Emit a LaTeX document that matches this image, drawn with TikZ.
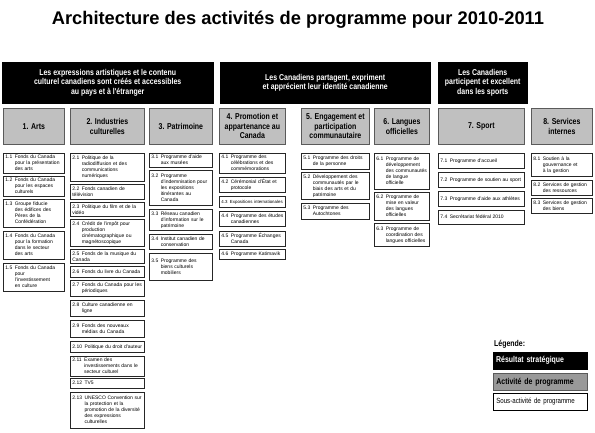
\documentclass[tikz,border=0pt]{standalone}
\usepackage{fontspec}
\setmainfont{Liberation Sans}
\newfontfamily\narrow[FakeStretch=0.82]{Liberation Sans}
\definecolor{grisactivite}{RGB}{192,192,192}
\definecolor{grislegende}{RGB}{153,153,153}
\definecolor{bord}{RGB}{90,90,90}
% sous-activite: numero, puis lignes en retrait
\newcommand{\sa}[2]{\noindent#1\hspace{2.5pt}\begin{tabular}[t]{@{}l@{}}#2\end{tabular}}
% sous-activite: lignes suivantes au bord gauche
\newcommand{\saf}[3]{\noindent#1\hspace{2.5pt}#2\\#3}
\begin{document}
\begin{tikzpicture}[
		x={(1pt,0pt)},
		y={(0pt,-1pt)},
		resultat/.style={draw=black, fill=black, text=white, anchor=north west, align=center, inner sep=0pt, font=\narrow\bfseries\fontsize{8.5}{9.5}\selectfont},
		activite/.style={draw=bord, line width=0.8pt, fill=grisactivite, anchor=north west, align=center, inner sep=0pt, font=\narrow\bfseries\fontsize{8.5}{9.5}\selectfont},
		sousact/.style={draw=black!85, line width=0.7pt, fill=white, anchor=north west, align=left, inner xsep=2pt, inner ysep=1pt, font=\fontsize{5}{6}\selectfont},
		legende/.style={anchor=north west, align=left, minimum width=94, minimum height=17, text width=88, inner xsep=3pt},
	]
		\useasboundingbox (0,0) rectangle (595,433);
		
		\node[font=\bfseries\fontsize{18.3}{22}\selectfont] (titre) at (298,20) {Architecture des activités de programme pour 2010-2011};
		
		% resultats strategiques
		\node[resultat, minimum width=211, minimum height=41] (r1) at (2,62) {Les expressions artistiques et le contenu\\culturel canadiens sont créés et accessibles\\au pays et à l'étranger};
		\node[resultat, minimum width=210, minimum height=41] (r2) at (220,62) {Les Canadiens partagent, expriment\\et apprécient leur identité canadienne};
		\node[resultat, minimum width=89, minimum height=41] (r3) at (438,62) {Les Canadiens\\participent et excellent\\dans les sports};
		
		% activites de programme
		\foreach \n/\x/\w/\t in {1/3/61/{1. Arts}, 2/70/74/{2. Industries\\culturelles}, 3/149/63/{3. Patrimoine}, 4/219/66/{4. Promotion et\\appartenance au\\Canada}, 5/301/68/{5. Engagement et\\participation\\communautaire}, 6/374/55/{6. Langues\\officielles}, 7/438/86/{7. Sport}, 8/531/61/{8. Services\\internes}}{
			\node[activite, minimum width=\w, minimum height=36] (a\n) at (\x,108) {\t};
		}
		
		% sous-activites
		\foreach \i/\y/\h/\t in {1/153/19/{\sa{1.1}{Fonds du Canada\\pour la présentation\\des arts}}, 2/176/18/{\sa{1.2}{Fonds du Canada\\pour les espaces\\culturels}}, 3/199/28/{\sa{1.3}{Groupe fiducie\\des édifices des\\Pères de la\\Confédération}}, 4/231/28/{\sa{1.4}{Fonds du Canada\\pour la formation\\dans le secteur\\des arts}}, 5/263/28/{\sa{1.5}{Fonds du Canada\\pour\\l'investissement\\en culture}}}{
			\node[sousact, text width=57, minimum height=\h] (b1-\i) at (3,\y) {\t};
		}
		\foreach \i/\y/\h/\t in {1/153/28/{\sa{2.1}{Politique de la\\radiodiffusion et des\\communications\\numériques}}, 2/184/15/{\saf{2.2}{Fonds canadien de}{télévision}}, 3/202/14/{\saf{2.3}{Politique du film et de la}{vidéo}}, 4/219/27/{\sa{2.4}{Crédit de l'impôt pour\\production\\cinématographique ou\\magnétoscopique}}, 5/249/14/{\saf{2.5}{Fonds de la musique du}{Canada}}, 6/266/11/{\sa{2.6}{Fonds du livre du Canada}}, 7/280/16/{\sa{2.7}{Fonds du Canada pour les\\périodiques}}, 8/300/16/{\sa{2.8}{Culture canadienne en\\ligne}}, 9/320/17/{\sa{2.9}{Fonds des nouveaux\\médias du Canada}}, 10/341/11/{\sa{2.10}{Politique du droit d'auteur}}, 11/356/19/{\sa{2.11}{Examen des\\investissements dans le\\secteur culturel}}, 12/378/10/{\sa{2.12}{TV5}}, 13/392/36/{\sa{2.13}{UNESCO Convention sur\\la protection et la\\promotion de la diversité\\des expressions\\culturelles}}}{
			\node[sousact, text width=70, minimum height=\h] (b2-\i) at (70,\y) {\t};
		}
		\foreach \i/\y/\h/\t in {1/153/14/{\sa{3.1}{Programme d'aide\\aux musées}}, 2/170/35/{\sa{3.2}{Programme\\d'indemnisation pour\\les expositions\\itinérantes au\\Canada}}, 3/209/21/{\sa{3.3}{Réseau canadien\\d'information sur le\\patrimoine}}, 4/234/15/{\sa{3.4}{Institut canadien de\\conservation}}, 5/253/27/{\sa{3.5}{Programme des\\biens culturels\\mobiliers}}}{
			\node[sousact, text width=59, minimum height=\h] (b3-\i) at (149,\y) {\t};
		}
		\foreach \i/\y/\h/\t in {1/153/20/{\sa{4.1}{Programme des\\célébrations et des\\commémorations}}, 2/177/15/{\sa{4.2}{Cérémonial d'État et\\protocole}}, 3/196/11/{\fontsize{4.4}{6}\selectfont\sa{4.3}{Expositions internationales}}, 4/211/15/{\sa{4.4}{Programme des études\\canadiennes}}, 5/231/15/{\sa{4.5}{Programme Échanges\\Canada}}, 6/249/10/{\sa{4.6}{Programme Katimavik}}}{
			\node[sousact, text width=62, minimum height=\h] (b4-\i) at (219,\y) {\t};
		}
		\foreach \i/\y/\h/\t in {1/153/16/{\sa{5.1}{Programme des droits\\de la personne}}, 2/172/27/{\sa{5.2}{Développement des\\communautés par le\\biais des arts et du\\patrimoine}}, 3/203/16/{\sa{5.3}{Programme des\\Autochtones}}}{
			\node[sousact, text width=64, minimum height=\h] (b5-\i) at (301,\y) {\t};
		}
		\foreach \i/\y/\h/\t in {1/153/36/{\sa{6.1}{Programme de\\développement\\des communautés\\de langue\\officielle}}, 2/192/28/{\sa{6.2}{Programme de\\mise en valeur\\des langues\\officielles}}, 3/223/23/{\sa{6.3}{Programme de\\coordination des\\langues officielles}}}{
			\node[sousact, text width=51, minimum height=\h] (b6-\i) at (374,\y) {\t};
		}
		\foreach \i/\y/\h/\t in {1/153/15/{\sa{7.1}{Programme d'accueil}}, 2/172/15/{\sa{7.2}{Programme de soutien au sport}}, 3/191/15/{\sa{7.3}{Programme d'aide aux athlètes}}, 4/210/14/{\sa{7.4}{Secrétariat fédéral 2010}}}{
			\node[sousact, text width=82, minimum height=\h] (b7-\i) at (438,\y) {\t};
		}
		\foreach \i/\y/\h/\t in {1/153/23/{\sa{8.1}{Soutien à la\\gouvernance et\\à la gestion}}, 2/180/15/{\sa{8.2}{Services de gestion\\des ressources}}, 3/198/15/{\sa{8.3}{Services de gestion\\des biens}}}{
			\node[sousact, text width=57, minimum height=\h] (b8-\i) at (531,\y) {\t};
		}
		
		% legende
		\node[anchor=south west, inner sep=0pt, font=\narrow\bfseries\fontsize{8.5}{9.5}\selectfont] (leg) at (494,349) {Légende:};
		\node[legende, draw=black, fill=black, text=white, font=\narrow\bfseries\fontsize{8.5}{9.5}\selectfont] (lr) at (493,352) {Résultat stratégique};
		\node[legende, draw=bord, line width=0.8pt, fill=grislegende, font=\narrow\bfseries\fontsize{8.5}{9.5}\selectfont] (la) at (493,373) {Activité de programme};
		\node[legende, draw=black, line width=0.6pt, fill=white, font=\narrow\fontsize{7.5}{9}\selectfont] (ls) at (493,393) {Sous-activité de programme};
	\end{tikzpicture}
\end{document}
